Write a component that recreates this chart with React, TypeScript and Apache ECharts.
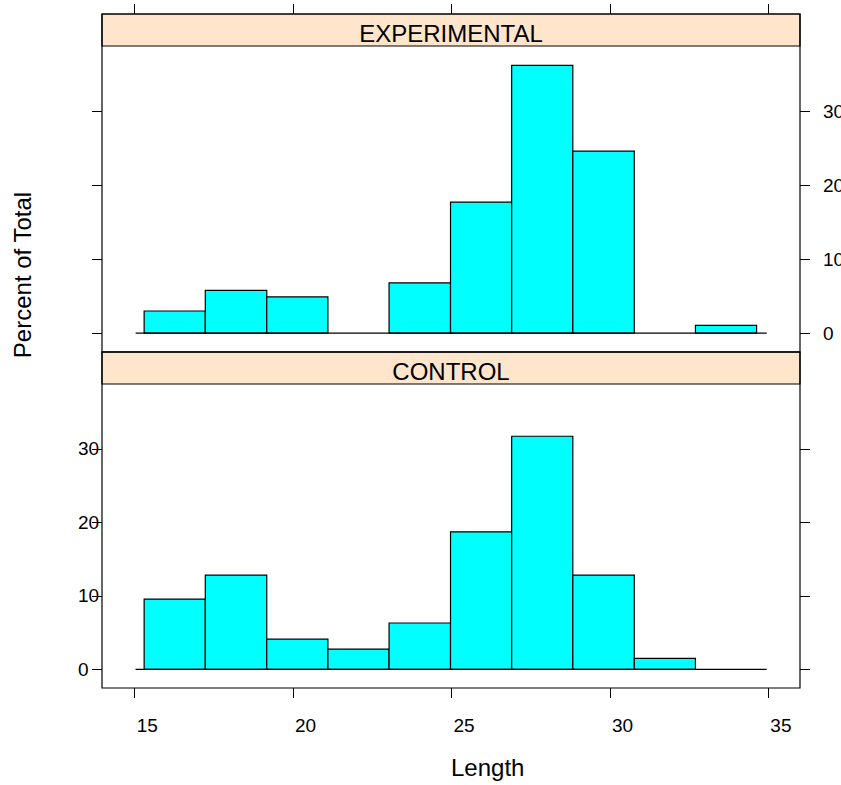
import React, { useEffect, useRef } from "react";
import * as echarts from "echarts";

// Histogram bin edges (Length)
const binEdges = [15.3, 17.23, 19.17, 21.1, 23.03, 24.97, 26.9, 28.83, 30.77, 32.7, 34.63];
// Percent of total per bin
const experimental = [3.0, 5.8, 4.9, 0, 6.8, 17.7, 36.2, 24.6, 0, 1.05];
const control = [9.55, 12.8, 4.1, 2.75, 6.3, 18.7, 31.7, 12.8, 1.5, 0];
const panelNames = ["EXPERIMENTAL", "CONTROL"];
const xTicks = [15, 20, 25, 30, 35];
const yTicks = [0, 10, 20, 30];
const xLim = [13.97, 36.0];
const yLim = [-2.54, 38.81];
const baselineRange = [15.03, 34.95];

const FONT = "Arial, 'Liberation Sans', sans-serif";

function toBins(vals: number[]) {
  return vals.map((v, i) => [binEdges[i], binEdges[i + 1], v]);
}

export default function App() {
  const ref = useRef<HTMLDivElement>(null);
  useEffect(() => {
    if (!ref.current) return;
    const chart = echarts.init(ref.current, undefined, { renderer: "svg" });
    const grids = [
      { left: 102, right: 41, top: 46, height: 306, outerBoundsMode: "none", containLabel: false },
      { left: 102, right: 41, top: 384, height: 304, outerBoundsMode: "none", containLabel: false },
    ];
    const renderItem = (params: any, api: any) => {
      const x0 = api.value(0);
      const x1 = api.value(1);
      const v = api.value(2);
      if (!(v > 0)) return null;
      const p0 = api.coord([x0, v]);
      const p1 = api.coord([x1, 0]);
      return {
        type: "rect",
        shape: { x: p0[0], y: p0[1], width: p1[0] - p0[0], height: p1[1] - p0[1] },
        style: { fill: "#00FFFF", stroke: "#000", lineWidth: 1.2 },
      };
    };
    const labelStyle = { color: "#000", fontSize: 19, fontFamily: FONT };
    const tickStyle = { lineStyle: { color: "#000", width: 1 }, length: 10, inside: false };
    const yAxisBase = {
      type: "value",
      min: yLim[0],
      max: yLim[1],
      axisLine: { show: false, onZero: false },
      splitLine: { show: false },
    };
    const xAxisBase = {
      type: "value",
      min: xLim[0],
      max: xLim[1],
      axisLine: { show: false, onZero: false },
      splitLine: { show: false },
    };
    const option: any = {
      animation: false,
      backgroundColor: "#fff",
      grid: grids,
      xAxis: [
        {
          ...xAxisBase,
          gridIndex: 0,
          position: "top",
          offset: 32,
          axisTick: { ...tickStyle, customValues: xTicks },
          axisLabel: { show: false },
        },
        {
          ...xAxisBase,
          gridIndex: 1,
          position: "bottom",
          axisTick: { ...tickStyle, customValues: xTicks },
          axisLabel: {
            ...labelStyle,
            customValues: xTicks,
            align: "left",
            verticalAlign: "middle",
            margin: 37,
            padding: [0, 0, 0, 2],
          },
        },
      ],
      yAxis: [
        {
          ...yAxisBase,
          gridIndex: 0,
          position: "left",
          axisTick: { ...tickStyle, customValues: yTicks },
          axisLabel: { show: false },
        },
        {
          ...yAxisBase,
          gridIndex: 0,
          position: "right",
          axisTick: { ...tickStyle, customValues: yTicks },
          axisLabel: {
            ...labelStyle,
            customValues: yTicks,
            align: "left",
            verticalAlign: "middle",
            margin: 23,
            padding: [6, 0, 0, 0],
          },
        },
        {
          ...yAxisBase,
          gridIndex: 1,
          position: "left",
          axisTick: { ...tickStyle, customValues: yTicks },
          axisLabel: {
            ...labelStyle,
            customValues: yTicks,
            align: "left",
            verticalAlign: "middle",
            margin: 24,
            padding: [6, 0, 0, 0],
          },
        },
        {
          ...yAxisBase,
          gridIndex: 1,
          position: "right",
          axisTick: { ...tickStyle, customValues: yTicks },
          axisLabel: { show: false },
        },
      ],
      series: [
        {
          type: "custom",
          xAxisIndex: 0,
          yAxisIndex: 0,
          renderItem,
          encode: { x: [0, 1], y: 2 },
          data: toBins(experimental),
          z: 2,
        },
        {
          type: "line",
          xAxisIndex: 0,
          yAxisIndex: 0,
          data: [[baselineRange[0], 0], [baselineRange[1], 0]],
          symbol: "none",
          lineStyle: { color: "#000", width: 1.3 },
          z: 3,
        },
        {
          type: "custom",
          xAxisIndex: 1,
          yAxisIndex: 2,
          renderItem,
          encode: { x: [0, 1], y: 2 },
          data: toBins(control),
          z: 2,
        },
        {
          type: "line",
          xAxisIndex: 1,
          yAxisIndex: 2,
          data: [[baselineRange[0], 0], [baselineRange[1], 0]],
          symbol: "none",
          lineStyle: { color: "#000", width: 1.3 },
          z: 3,
        },
      ],
      graphic: [
        {
          type: "rect",
          shape: { x: 102, y: 14, width: 698, height: 32 },
          style: { fill: "#FFE5CC", stroke: "#000", lineWidth: 1.2 },
        },
        {
          type: "rect",
          shape: { x: 102, y: 352, width: 698, height: 32 },
          style: { fill: "#FFE5CC", stroke: "#000", lineWidth: 1.2 },
        },
        {
          type: "text",
          x: 451,
          y: 33,
          style: {
            text: panelNames[0],
            fill: "#000",
            font: `24px ${FONT}`,
            textAlign: "center",
            textVerticalAlign: "middle",
          },
        },
        {
          type: "text",
          x: 451,
          y: 371,
          style: {
            text: panelNames[1],
            fill: "#000",
            font: `24px ${FONT}`,
            textAlign: "center",
            textVerticalAlign: "middle",
          },
        },
        {
          type: "rect",
          shape: { x: 102, y: 14, width: 698, height: 338 },
          style: { fill: "none", stroke: "#000", lineWidth: 1.2 },
          z: 10,
        },
        {
          type: "rect",
          shape: { x: 102, y: 352, width: 698, height: 336 },
          style: { fill: "none", stroke: "#000", lineWidth: 1.2 },
          z: 10,
        },
        {
          type: "text",
          x: 451,
          y: 767,
          style: {
            text: "Length",
            fill: "#000",
            font: `24px ${FONT}`,
            textAlign: "left",
            textVerticalAlign: "middle",
          },
        },
        {
          type: "text",
          x: 22,
          y: 275,
          rotation: Math.PI / 2,
          style: {
            text: "Percent of Total",
            fill: "#000",
            font: `24px ${FONT}`,
            textAlign: "center",
            textVerticalAlign: "middle",
          },
        },
      ],
    };
    chart.setOption(option);
    return () => chart.dispose();
  }, []);
  return (
    <div
      ref={ref}
      style={{ position: "fixed", left: 0, top: 0, width: 841, height: 785, background: "#fff" }}
    />
  );
}
